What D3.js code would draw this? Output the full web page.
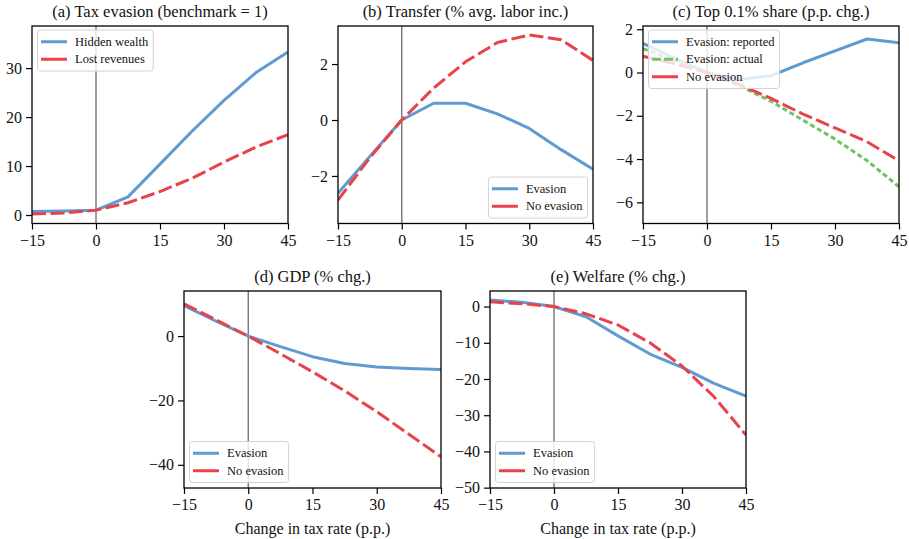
<!DOCTYPE html>
<html>
<head>
<meta charset="utf-8">
<script src="https://cdn.jsdelivr.net/npm/d3@7"></script>
<style>
  html, body { margin: 0; padding: 0; background: #fff; }
  svg { display: block; }
</style>
</head>
<body>
<script>
// Change in tax rate (p.p.) at which each model run was solved
const taxChange = [-15, -7.5, 0, 7.5, 15, 22.5, 30, 37.5, 45];
const xTicks = [-15, 0, 15, 30, 45];

// (a) Tax evasion, benchmark = 1
const hiddenWealth = [0.7, 0.8, 1.0, 3.7, 10.4, 17.1, 23.4, 29.1, 33.3];
const lostRevenues = [0.2, 0.4, 1.0, 2.5, 4.8, 7.5, 10.8, 13.9, 16.4];

// (b) Transfer, % of average labor income
const transferEvasion   = [-2.62, -1.3, 0.0, 0.6, 0.6, 0.22, -0.3, -1.06, -1.76];
const transferNoEvasion = [-2.86, -1.35, 0.0, 1.14, 2.08, 2.77, 3.04, 2.87, 2.13];

// (c) Top 0.1% wealth share, p.p. change
const top01Reported  = [1.35, 0.65, 0.0, -0.33, -0.15, 0.45, 1.0, 1.55, 1.37];
const top01Actual    = [1.1, 0.55, 0.0, -0.6, -1.33, -2.2, -3.08, -4.07, -5.28];
const top01NoEvasion = [0.75, 0.4, 0.0, -0.55, -1.2, -1.92, -2.56, -3.2, -4.08];

// (d) GDP, % change
const gdpEvasion   = [9.5, 4.6, 0.0, -3.3, -6.4, -8.5, -9.6, -10.1, -10.4];
const gdpNoEvasion = [10.0, 5.0, 0.0, -5.5, -11.1, -17.0, -23.5, -30.5, -37.5];

// (e) Welfare, % change
const welfareEvasion   = [1.8, 1.2, 0.0, -2.8, -8.1, -13.1, -16.8, -21.2, -24.7];
const welfareNoEvasion = [1.3, 0.8, 0.0, -2.0, -5.1, -10.0, -16.4, -24.9, -35.5];

// Panel titles and y tick values
const panelTitles = [
  "(a) Tax evasion (benchmark = 1)",
  "(b) Transfer (% avg. labor inc.)",
  "(c) Top 0.1% share (p.p. chg.)",
  "(d) GDP (% chg.)",
  "(e) Welfare (% chg.)"
];
const yTicksA = [0, 10, 20, 30];
const yTicksB = [-2, 0, 2];
const yTicksC = [-6, -4, -2, 0, 2];
const yTicksD = [-40, -20, 0];
const yTicksE = [-50, -40, -30, -20, -10, 0];
const xAxisLabel = "Change in tax rate (p.p.)";

// ---- styling ----
const FONT = "'Liberation Serif', 'DejaVu Serif', serif";
const BLUE = "#5f9bd2";
const RED = "#e8434b";
const GREEN = "#72c163";
const LINE_W = 3;
const TITLE_SIZE = "16.5px";
const TICK_SIZE = "16px";
const LEGEND_SIZE = "12.5px";

const styles = {
  solid:  { color: BLUE,  dash: null,     legendDash: null },
  dashed: { color: RED,   dash: "14,4.5", legendDash: null },
  dotted: { color: GREEN, dash: "5,3",    legendDash: "9,3" }
};

const svg = d3.select("body").append("svg")
  .attr("width", 909).attr("height", 539)
  .style("font-family", FONT);

const fmt = d3.format("d");
let clipId = 0;

function drawPanel(cfg) {
  const x = d3.scaleLinear().domain([-15, 45]).range([cfg.left, cfg.right]);
  const y = d3.scaleLinear().domain(cfg.yDomain).range([cfg.bottom, cfg.top]);
  const g = svg.append("g");

  const id = "clip" + (clipId++);
  g.append("clipPath").attr("id", id)
    .append("rect")
    .attr("x", cfg.left).attr("y", cfg.top)
    .attr("width", cfg.right - cfg.left).attr("height", cfg.bottom - cfg.top);

  const plot = g.append("g").attr("clip-path", `url(#${id})`);

  // vertical reference line at no change in the tax rate
  plot.append("line")
    .attr("x1", x(0)).attr("x2", x(0))
    .attr("y1", cfg.top).attr("y2", cfg.bottom)
    .attr("stroke", "#6a6a6a").attr("stroke-width", 1.3);

  const line = d3.line()
    .x((d, i) => x(taxChange[i]))
    .y(d => y(d));

  cfg.series.forEach(s => {
    const st = styles[s.style];
    plot.append("path")
      .attr("d", line(s.values))
      .attr("fill", "none")
      .attr("stroke", st.color)
      .attr("stroke-width", LINE_W)
      .attr("stroke-dasharray", st.dash)
      .attr("stroke-linejoin", "round");
  });

  // axes
  const xAxis = d3.axisBottom(x).tickValues(xTicks).tickSize(6).tickPadding(5).tickFormat(fmt);
  const yAxis = d3.axisLeft(y).tickValues(cfg.yTicks).tickSize(6).tickPadding(4).tickFormat(fmt);

  const gx = g.append("g").attr("transform", `translate(0,${cfg.bottom})`).call(xAxis);
  const gy = g.append("g").attr("transform", `translate(${cfg.left},0)`).call(yAxis);
  [gx, gy].forEach(a => {
    a.select(".domain").remove();
    a.selectAll(".tick line").attr("stroke", "#000").attr("stroke-width", 1.2);
    a.selectAll(".tick text").attr("fill", "#111").style("font-size", TICK_SIZE).style("font-family", FONT);
  });

  // frame
  g.append("rect")
    .attr("x", cfg.left).attr("y", cfg.top)
    .attr("width", cfg.right - cfg.left).attr("height", cfg.bottom - cfg.top)
    .attr("fill", "none").attr("stroke", "#000").attr("stroke-width", 1.3);

  // title
  g.append("text")
    .attr("x", (cfg.left + cfg.right) / 2).attr("y", cfg.top - 9.5)
    .attr("text-anchor", "middle")
    .style("font-size", TITLE_SIZE).attr("fill", "#111")
    .text(cfg.title);

  if (cfg.xLabel) {
    g.append("text")
      .attr("x", (cfg.left + cfg.right) / 2).attr("y", cfg.bottom + 46)
      .attr("text-anchor", "middle")
      .style("font-size", TICK_SIZE).attr("fill", "#111")
      .text(cfg.xLabel);
  }

  // legend
  const rowH = 17.5, inset = 5.5, sampleLen = 26;
  const lg = g.append("g");
  const box = lg.append("rect")
    .attr("fill", "#fff").attr("fill-opacity", 0.8)
    .attr("stroke", "#d2d2d2").attr("stroke-width", 1)
    .attr("rx", 3).attr("ry", 3);
  let maxW = 0;
  cfg.series.forEach((s, i) => {
    const rg = lg.append("g").attr("transform", `translate(0,${11.75 + i * rowH})`);
    const st = styles[s.style];
    rg.append("line")
      .attr("x1", 3.5).attr("x2", 3.5 + sampleLen)
      .attr("y1", 0).attr("y2", 0)
      .attr("stroke", st.color).attr("stroke-width", LINE_W)
      .attr("stroke-dasharray", st.legendDash);
    const t = rg.append("text")
      .attr("x", 3.5 + sampleLen + 8).attr("dy", "0.33em")
      .style("font-size", LEGEND_SIZE).attr("fill", "#111")
      .text(s.name);
    maxW = Math.max(maxW, t.node().getComputedTextLength());
  });
  const bw = 3.5 + sampleLen + 8 + maxW + 5;
  const bh = cfg.series.length * rowH + 6;
  box.attr("width", bw).attr("height", bh);
  const lx = cfg.legendPos.includes("right") ? cfg.right - inset - bw : cfg.left + inset;
  const ly = cfg.legendPos.includes("lower") ? cfg.bottom - inset - bh : cfg.top + inset - 1.5;
  lg.attr("transform", `translate(${lx},${ly})`);
}

drawPanel({
  left: 32, right: 288, top: 26, bottom: 223.5,
  yDomain: [-1.73, 38.6], yTicks: yTicksA, title: panelTitles[0],
  legendPos: "upper left",
  series: [
    { name: "Hidden wealth", values: hiddenWealth, style: "solid" },
    { name: "Lost revenues", values: lostRevenues, style: "dashed" }
  ]
});

drawPanel({
  left: 338, right: 593, top: 26, bottom: 223.5,
  yDomain: [-3.7, 3.36], yTicks: yTicksB, title: panelTitles[1],
  legendPos: "lower right",
  series: [
    { name: "Evasion", values: transferEvasion, style: "solid" },
    { name: "No evasion", values: transferNoEvasion, style: "dashed" }
  ]
});

drawPanel({
  left: 643, right: 899, top: 26, bottom: 223.5,
  yDomain: [-6.98, 2.15], yTicks: yTicksC, title: panelTitles[2],
  legendPos: "upper left",
  series: [
    { name: "Evasion: reported", values: top01Reported, style: "solid" },
    { name: "Evasion: actual", values: top01Actual, style: "dotted" },
    { name: "No evasion", values: top01NoEvasion, style: "dashed" }
  ]
});

drawPanel({
  left: 184, right: 441, top: 291, bottom: 488,
  yDomain: [-47.2, 14.0], yTicks: yTicksD, title: panelTitles[3],
  legendPos: "lower left", xLabel: xAxisLabel,
  series: [
    { name: "Evasion", values: gdpEvasion, style: "solid" },
    { name: "No evasion", values: gdpNoEvasion, style: "dashed" }
  ]
});

drawPanel({
  left: 490, right: 746, top: 291, bottom: 488,
  yDomain: [-50.1, 4.3], yTicks: yTicksE, title: panelTitles[4],
  legendPos: "lower left", xLabel: xAxisLabel,
  series: [
    { name: "Evasion", values: welfareEvasion, style: "solid" },
    { name: "No evasion", values: welfareNoEvasion, style: "dashed" }
  ]
});
</script>
</body>
</html>
